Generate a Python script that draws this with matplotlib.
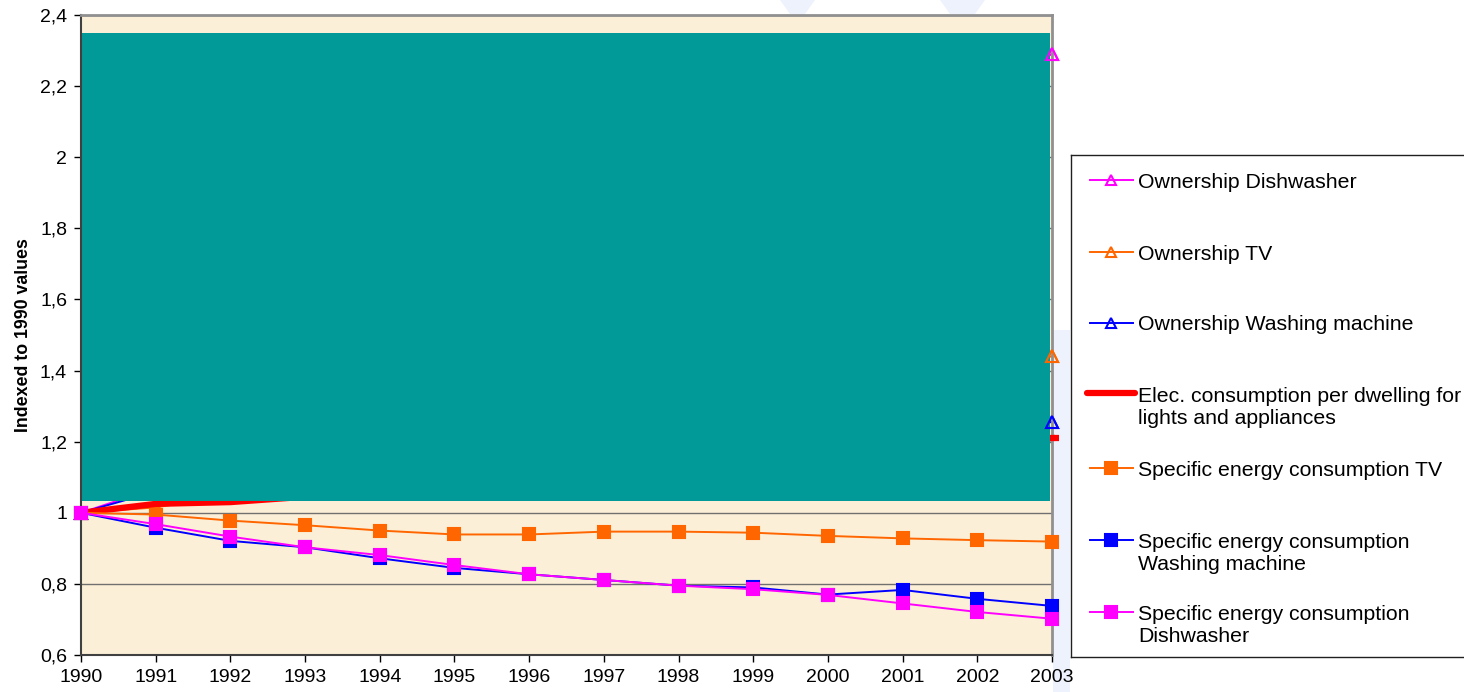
import numpy as np
import matplotlib.pyplot as plt
from matplotlib.patches import Rectangle, Polygon
from matplotlib.lines import Line2D
from matplotlib.ticker import FuncFormatter

plt.rcParams['font.family'] = ['Liberation Sans', 'DejaVu Sans']

# data (indexed to 1990)
years = list(range(1990, 2004))

own_dishwasher = [1.0, 1.07, 1.15, 1.25, 1.35, 1.45, 1.55, 1.65, 1.76, 1.88, 1.98, 2.08, 2.19, 2.29]
own_tv = [1.0, 1.015, 1.05, 1.08, 1.11, 1.15, 1.18, 1.21, 1.25, 1.29, 1.33, 1.37, 1.40, 1.44]
own_washing = [1.0, 1.06, 1.08, 1.10, 1.12, 1.14, 1.16, 1.18, 1.19, 1.21, 1.22, 1.23, 1.24, 1.255]
elec_dwelling = [1.0, 1.025, 1.03, 1.045, 1.065, 1.085, 1.10, 1.12, 1.14, 1.15, 1.17, 1.18, 1.195, 1.21]
spec_tv = [1.0, 0.995, 0.978, 0.965, 0.95, 0.939, 0.939, 0.947, 0.947, 0.944, 0.935, 0.928, 0.923, 0.919]
spec_washing = [1.0, 0.958, 0.921, 0.903, 0.872, 0.845, 0.827, 0.811, 0.795, 0.790, 0.770, 0.783, 0.758, 0.738]
spec_dishwasher = [1.0, 0.968, 0.933, 0.903, 0.881, 0.853, 0.827, 0.811, 0.795, 0.785, 0.769, 0.745, 0.721, 0.702]

labels = ["Ownership Dishwasher", "Ownership TV", "Ownership Washing machine",
          "Elec. consumption per dwelling for\nlights and appliances",
          "Specific energy consumption TV",
          "Specific energy consumption\nWashing machine",
          "Specific energy consumption\nDishwasher"]

# style per series: color, marker, filled, linewidth
styles = [("#FF00FF", "^", False, 1.4),
          ("#FF6600", "^", False, 1.4),
          ("#0000FF", "^", False, 1.4),
          ("#FF0000", None, True, 4.5),
          ("#FF6600", "s", True, 1.4),
          ("#0000FF", "s", True, 1.4),
          ("#FF00FF", "s", True, 1.4)]
series = [own_dishwasher, own_tv, own_washing, elec_dwelling, spec_tv, spec_washing, spec_dishwasher]

W, H = 1464, 692
fig = plt.figure(figsize=(W / 100, H / 100), dpi=100)

# faint watermark behind everything
wm = "#EEF2FC"
for pts in [[(1053, 330), (1070, 330), (1070, 692), (1053, 692)],
            [(780, 0), (815, 0), (805, 14), (790, 14)],
            [(940, 0), (985, 0), (975, 14), (950, 14)]]:
    fig.patches.append(Polygon([(x / W, 1 - y / H) for x, y in pts], closed=True,
                               transform=fig.transFigure, facecolor=wm, edgecolor="none", zorder=-1))

ax = fig.add_axes([81 / W, 1 - 655 / H, (1052 - 81) / W, (655 - 15) / H])
ax.set_facecolor("#FCEFD7")
ax.set_xlim(1990, 2003)
ax.set_ylim(0.6, 2.4)
ax.set_yticks(np.arange(0.6, 2.41, 0.2))
ax.set_xticks(years)
ax.yaxis.set_major_formatter(FuncFormatter(lambda v, p: ("%.1f" % v).rstrip("0").rstrip(".").replace(".", ",")))
ax.grid(axis="y", color="#707070", linewidth=1.0, zorder=1)
ax.set_axisbelow(True)
ax.tick_params(labelsize=14, length=5, width=1, direction="out", pad=5)
for s in ["left", "bottom"]:
    ax.spines[s].set_color("#404040")
    ax.spines[s].set_linewidth(1.5)
for s in ["top", "right"]:
    ax.spines[s].set_color("#909090")
    ax.spines[s].set_linewidth(2)
ax.set_ylabel("Indexed to 1990 values", fontsize=12.8, fontweight="bold", labelpad=6)

for vals, (col, mk, filled, lw) in zip(series, styles):
    ax.plot(years, vals, color=col, lw=lw, marker=mk, markersize=9 if mk == "s" else 8,
            markerfacecolor=col if filled else "none", markeredgecolor=col,
            markeredgewidth=1.5, zorder=3, clip_on=False)

# teal block over the upper part of the plot
ax.add_patch(Rectangle((1990, 1.033), 2002.97 - 1990, 2.35 - 1.033,
                       facecolor="#029A98", edgecolor="none", zorder=2.5))
# keep ownership lines under the block, markers at 2003 stay visible
for ln in ax.lines[:4]:
    ln.set_zorder(2)
for vals, (col, mk, filled, lw) in zip(series[:3], styles[:3]):
    ax.plot([years[-1]], [vals[-1]], linestyle="none", marker=mk, markersize=8,
            markerfacecolor="none", markeredgecolor=col, markeredgewidth=1.5,
            zorder=4, clip_on=False)
ax.plot([2002.97, 2003.1], [elec_dwelling[-1], elec_dwelling[-1]], color="#FF0000", lw=4.5,
        zorder=4, clip_on=False, solid_capstyle="butt")

# legend box drawn by hand (Excel style, marker on first text line)
lx0, ly0, lx1, ly1 = 1071, 155, 1478, 657
lg = fig.add_axes([lx0 / W, 1 - ly1 / H, (lx1 - lx0) / W, (ly1 - ly0) / H])
lg.set_xlim(0, lx1 - lx0)
lg.set_ylim(ly1 - ly0, 0)
lg.set_xticks([])
lg.set_yticks([])
for s in lg.spines.values():
    s.set_color("#202020")
    s.set_linewidth(1)
first_line = [25, 97, 168, 240, 313, 385, 457]
for yy, lab, (col, mk, filled, lw) in zip(first_line, labels, styles):
    if mk is None:
        lg.add_line(Line2D([16, 64], [yy - 2, yy - 2], color=col, lw=4.5, solid_capstyle="round"))
    else:
        lg.add_line(Line2D([19, 62], [yy, yy], color=col, lw=1.4))
        lg.add_line(Line2D([40], [yy], marker=mk, markersize=8 if mk == "s" else 7,
                           markerfacecolor=col if filled else "none",
                           markeredgecolor=col, markeredgewidth=1.5))
    for i, part in enumerate(lab.split("\n")):
        lg.text(67, yy + i * 22, part, fontsize=15.3, va="center_baseline", ha="left")

fig.savefig("out.png", dpi=100)
